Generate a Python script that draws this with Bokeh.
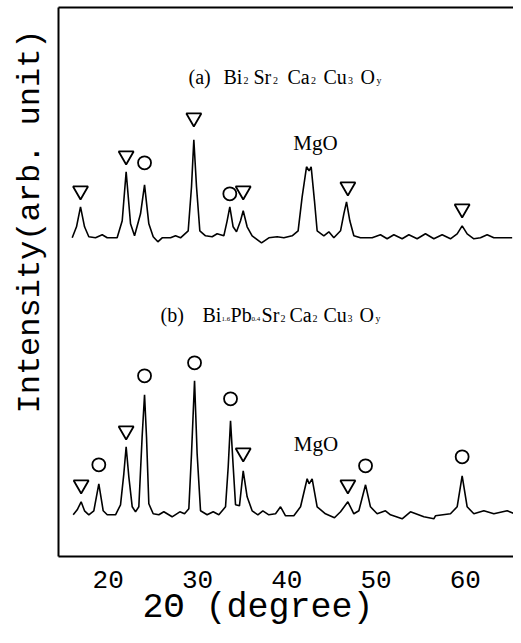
import numpy as np
from bokeh.plotting import figure
from bokeh.models import (ColumnDataSource, Range1d, LinearAxis, FixedTicker,
                          Title)
from bokeh.core.properties import value
from bokeh.embed import file_html
from bokeh.resources import INLINE

# ---------------- data ----------------
# (a) Bi2Sr2Ca2Cu3Oy  -- 2theta (degree) / intensity (arb.)
two_theta_a = [15.97, 16.45, 16.9, 17.35, 17.83, 18.58, 19.33, 19.89, 21.0, 21.57,
               22.01, 22.5, 22.95, 23.62, 24.07, 24.55, 25.04, 25.56, 26.04, 26.98,
               27.54, 28.1, 28.96, 29.33, 29.59, 29.89, 30.26, 30.9, 31.64, 32.2,
               32.95, 33.32, 33.62, 33.99, 34.37, 34.82, 35.12, 35.56, 36.12, 37.17,
               37.99, 38.92, 39.67, 40.6, 41.27, 41.72, 42.21, 42.5, 42.73, 43.1,
               43.4, 44.15, 44.71, 45.27, 46.02, 46.39, 46.69, 47.06, 47.51, 48.25,
               49.56, 50.49, 51.24, 51.99, 52.92, 53.67, 54.6, 55.53, 56.47, 57.4,
               58.33, 59.08, 59.64, 60.2, 60.95, 61.69, 62.44, 63.19, 65.24]
intensity_a = [0, 11, 31, 11, 1, 0, 3, 0, 0, 17,
               66, 14, 2, 24, 53, 14, 1, -4, 0, 0,
               2, 0, 7, 51, 98, 51, 7, 2, 1, 4,
               2, 17, 31, 11, 6, 17, 27, 11, 2, -5,
               0, 1, 0, 2, 7, 41, 71, 67, 71, 37,
               7, 2, 6, 0, 7, 24, 36, 17, 2, 0,
               0, 3, -1, 3, -1, 3, -1, 4, -1, 3,
               -1, 4, 12, 4, -1, 0, 3, 0, 0]

# (b) Bi1.6Pb0.4Sr2Ca2Cu3Oy
two_theta_b = [16.08, 16.53, 16.97, 17.35, 17.83, 18.39, 18.95, 19.44, 19.89, 20.82,
               21.38, 21.75, 22.01, 22.31, 22.69, 23.06, 23.43, 23.8, 24.07, 24.29,
               24.55, 25.04, 25.67, 26.23, 27.16, 28.02, 28.55, 29.03, 29.33, 29.67,
               29.96, 30.34, 31.08, 31.76, 32.39, 33.14, 33.44, 33.7, 34.0, 34.26,
               34.7, 35.12, 35.56, 36.12, 36.76, 37.32, 37.99, 38.74, 39.3, 39.86,
               40.79, 41.54, 42.28, 42.5, 42.84, 43.4, 44.33, 45.34, 46.02, 46.84,
               47.51, 48.07, 48.82, 49.37, 50.12, 51.05, 51.61, 52.92, 53.85, 55.35,
               56.47, 56.65, 58.33, 59.08, 59.64, 60.2, 60.95, 62.07, 63.19, 64.68,
               65.8]
intensity_b = [-1, 4, 12, 3, -1, 3, 30, 3, -1, -1,
               9, 40, 67, 37, 7, 2, 7, 77, 119, 77,
               10, 0, -1, 2, -3, 2, 0, 5, 60, 133,
               60, 3, -1, 2, -1, 7, 47, 93, 47, 9,
               8, 43, 17, 3, -1, 3, -1, 0, 7, -2,
               -2, 7, 35, 30, 35, 7, 0, -4, 2, 12,
               0, 3, 29, 7, 0, 3, -1, -5, 2, -3,
               -5, -2, 0, 7, 38, 7, 0, 3, 0, 3,
               -1]

# phase marks: triangle / circle peaks with marker heights
tri_a_x = [16.9, 22.01, 29.59, 35.12, 46.84, 59.64]
tri_a_y = [47, 82, 120, 47, 51, 29]
circ_a_x = [24.07, 33.62]
circ_a_y = [75, 44]
tri_b_x = [16.97, 22.01, 35.12, 46.84]
tri_b_y = [29, 83, 61, 29]
circ_b_x = [18.95, 24.07, 29.67, 33.7, 48.82, 59.64]
circ_b_y = [49, 138, 151, 115, 48, 57]

x_ticks = [20, 30, 40, 50, 60]

# ---------------- layout / styling ----------------
OFF_A = 318.7   # vertical stacking offsets of the two patterns
OFF_B = 42.7
BASE_SHIFT = 0.33  # compensation of the text baseline, per px of font size

p = figure(width=513, height=635, output_backend="svg", toolbar_location=None,
           x_range=Range1d(14.434, 65.39), y_range=Range1d(0, 549),
           min_border_left=58, min_border_right=0, min_border_top=7,
           min_border_bottom=79, x_axis_location=None, y_axis_location=None)
p.outline_line_color = None
p.grid.visible = False
p.background_fill_color = "white"

def style_axis(ax, labels=False):
    ax.axis_line_color = "black"
    ax.axis_line_width = 2
    ax.major_tick_line_color = None
    ax.minor_tick_line_color = None
    ax.major_tick_out = 0
    ax.major_tick_in = 0
    ax.minor_tick_out = 0
    if not labels:
        ax.major_label_text_font_size = "0px"
        ax.major_label_text_color = None
        ax.major_label_standoff = 0

bottom = LinearAxis(ticker=FixedTicker(ticks=x_ticks))
style_axis(bottom, labels=True)
bottom.major_label_text_font = "Liberation Mono"
bottom.major_label_text_font_size = "26px"
bottom.major_label_text_color = "black"
bottom.major_label_standoff = 14
p.add_layout(bottom, "below")

top = LinearAxis(ticker=FixedTicker(ticks=[]))
style_axis(top)
p.add_layout(top, "above")

left = LinearAxis(ticker=FixedTicker(ticks=[]))
style_axis(left)
p.add_layout(left, "left")

# axis titles (placed as titles so they can be shifted along the frame)
p.add_layout(Title(text="2\u0398 (degree)", align="left", offset=84, standoff=-10,
                   text_font="Liberation Mono", text_font_size="35px",
                   text_font_style="normal", text_color="black"), "below")
p.add_layout(Title(text="Intensity(arb. unit)", align="left", offset=143, standoff=19,
                   text_font="Liberation Mono", text_font_size="32px",
                   text_font_style="normal", text_color="black"), "left")

# patterns
p.line(two_theta_a, np.array(intensity_a) + OFF_A, line_color="black", line_width=1.6)
p.line(two_theta_b, np.array(intensity_b) + OFF_B, line_color="black", line_width=1.6)

# markers
p.scatter(tri_a_x, np.array(tri_a_y) + OFF_A, marker="inverted_triangle", size=15,
          fill_color=None, line_color="black", line_width=1.8)
p.scatter(tri_b_x, np.array(tri_b_y) + OFF_B, marker="inverted_triangle", size=15,
          fill_color=None, line_color="black", line_width=1.8)
p.scatter(circ_a_x, np.array(circ_a_y) + OFF_A, marker="circle", size=13,
          fill_color=None, line_color="black", line_width=1.8)
p.scatter(circ_b_x, np.array(circ_b_y) + OFF_B, marker="circle", size=13,
          fill_color=None, line_color="black", line_width=1.8)

# MgO labels
p.text([43.21, 43.27], np.array([407, 105.3]) + BASE_SHIFT * 21,
       text=["MgO", "MgO"], text_align="center",
       text_baseline="alphabetic", text_font=value("Liberation Serif"),
       text_font_size="21px", text_color="black")

# composition labels, built from pieces (main text + subscripts)
pieces_a = [("(a)", 0, 20), ("Bi", 35, 20), ("2", 55, 10), ("Sr", 65, 20),
            ("2", 84.5, 10), ("Ca", 99, 20), ("2", 122.5, 10), ("Cu", 135, 20),
            ("3", 159.5, 10), ("O", 172, 20), ("y", 188, 10)]
pieces_b = [("(b)", 0, 20), ("Bi", 42, 20), ("1.6", 61, 7), ("Pb", 70, 20),
            ("0.4", 91, 7), ("Sr", 101, 20), ("2", 120, 10), ("Ca", 129, 20),
            ("2", 152, 10), ("Cu", 163, 20), ("3", 187, 10), ("O", 199, 20),
            ("y", 215, 10)]

def add_label(pieces, x0, y0):
    for size in sorted(set(f for _, _, f in pieces)):
        sel = [(s, d) for s, d, f in pieces if f == size]
        yy = y0 + BASE_SHIFT * size
        src = ColumnDataSource(dict(
            x=[x0] * len(sel), y=[yy] * len(sel),
            t=[s for s, _ in sel], dx=[d for _, d in sel]))
        p.text(x="x", y="y", text="t", x_offset="dx", source=src,
               text_font_size=f"{size}px", text_align="left",
               text_baseline="alphabetic",
               text_font=value("Liberation Serif"), text_color="black")

add_label(pieces_a, 28.99, 473)
add_label(pieces_b, 25.86, 235)

open("out.html", "w").write(file_html(p, INLINE))
